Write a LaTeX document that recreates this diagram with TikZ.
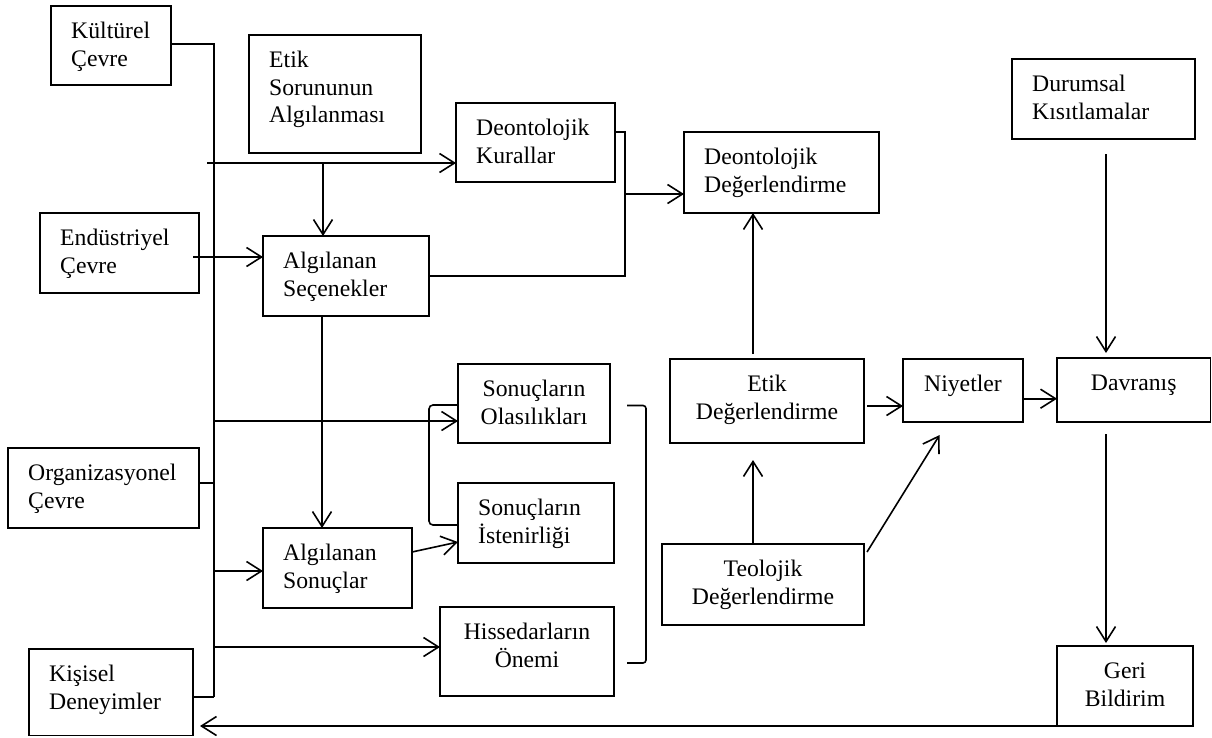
\documentclass[tikz,border=0pt]{standalone}
\usepackage{fontspec}
\setmainfont{Liberation Serif}
\usetikzlibrary{arrows.meta}

% box with left-aligned text: name, x1, y1, x2, y2, text
\newcommand\mkboxL[6]{%
  \node[box, minimum width={#4-#2}, minimum height={#5-#3}] (#1) at (#2,#3) {};
  \node[txt, anchor=north west, align=left] (#1-t) at (#2+20,#3+12) {\rule{0pt}{20pt}#6};
}
% box with centred text: name, x1, y1, x2, y2, text
\newcommand\mkboxC[6]{%
  \node[box, minimum width={#4-#2}, minimum height={#5-#3}] (#1) at (#2,#3) {};
  \node[txt, anchor=north, align=center] (#1-t) at ({(#2+#4)/2},#3+12) {\rule{0pt}{20pt}#6};
}

\begin{document}
\begin{tikzpicture}[x=1pt,y=-1pt,
  box/.style={draw, line width=1.2pt, rectangle, inner sep=0pt, outer sep=0pt, anchor=north west},
  txt/.style={inner sep=0pt, font=\fontsize{23.7}{27.8}\selectfont},
  conn/.style={line width=1.6pt},
  arr/.style={conn, -{Straight Barb[length=15pt,width=19pt]}},
]
\useasboundingbox (0,0) rectangle (1212,737);

% boxes
\mkboxL{kult}{51}{6}{171}{85}{Kültürel\\Çevre}
\mkboxL{etik}{249}{35}{421}{153}{Etik\\Sorununun\\Algılanması}
\mkboxL{endu}{40}{213}{199}{293}{Endüstriyel\\Çevre}
\mkboxL{alsec}{263}{236}{429}{316}{Algılanan\\Seçenekler}
\mkboxL{dkur}{456}{103}{615}{182}{Deontolojik\\Kurallar}
\mkboxL{ddeg}{684}{132}{879}{213}{Deontolojik\\Değerlendirme}
\mkboxL{dur}{1012}{59}{1195}{139}{Durumsal\\Kısıtlamalar}
\mkboxL{org}{8}{448}{199}{528}{Organizasyonel\\Çevre}
\mkboxL{alson}{263}{528}{412}{608}{Algılanan\\Sonuçlar}
\mkboxL{kis}{29}{649}{193}{735.5}{Kişisel\\Deneyimler}
\mkboxC{olas}{458}{364}{610}{443}{Sonuçların\\Olasılıkları}
\mkboxL{isten}{458}{483}{614}{563}{Sonuçların\\İstenirliği}
\mkboxC{hiss}{440}{607}{614}{696}{Hissedarların\\Önemi}
\mkboxC{etikd}{670}{359}{864}{443}{Etik\\Değerlendirme}
\mkboxC{niy}{903}{359}{1023}{422}{Niyetler}
\mkboxC{dav}{1057}{358}{1210.5}{422}{Davranış}
\mkboxC{teo}{662}{544}{864}{625}{Teolojik\\Değerlendirme}
\mkboxC{geri}{1057}{646}{1193}{726}{Geri\\Bildirim}

% environment bus on the left
\coordinate (busT) at (214,44);
\coordinate (busB) at (214,697);
\coordinate (o1) at (214,483);
\draw[conn] (kult.east |- busT) -- (busT) -- (busB);
\draw[conn] (org.east |- o1) -- (o1);
\draw[conn] (kis.east |- busB) -- (busB);

% upper inputs
\coordinate (h1) at (207,163);
\draw[arr] (h1) -- (h1 -| dkur.west);
\coordinate (v1) at (323,163);
\draw[arr] (v1) -- (v1 |- alsec.north);
\coordinate (e1) at (193,257);
\draw[arr] (e1) -- (e1 -| alsec.west);

% deontological join
\coordinate (jt) at (625,132);
\coordinate (jb) at (625,276);
\coordinate (jm) at (625,194);
\draw[conn] (jt -| dkur.east) -- (jt) -- (jb) -- (jb -| alsec.east);
\draw[arr] (jm) -- (jm -| ddeg.west);

% perceived alternatives to perceived consequences
\coordinate (v2) at (322,316);
\draw[arr] (v2 |- alsec.south) -- (v2 |- alson.north);

% bus branches
\coordinate (b1) at (214,421);
\draw[arr] (b1) -- (b1 -| olas.west);
\coordinate (b2) at (214,571);
\draw[arr] (b2) -- (b2 -| alson.west);
\coordinate (b3) at (214,647);
\draw[arr] (b3) -- (b3 -| hiss.west);

% consequences
\coordinate (s1) at (412,552);
\coordinate (s2) at (458,542);
\draw[arr] (s1 -| alson.east) -- (s2 -| isten.west);
\coordinate (lb1) at (429,405);
\coordinate (lb2) at (429,525);
\draw[conn, rounded corners=4pt] (lb1 -| olas.west) -- (lb1) -- (lb2) -- (lb2 -| isten.west);
\coordinate (rb1) at (627,405.5);
\coordinate (rb2) at (646,405.5);
\coordinate (rb3) at (646,663);
\coordinate (rb4) at (627,663);
\draw[conn, rounded corners=3pt] (rb1) -- (rb2) -- (rb3) -- (rb4);

% evaluations
\coordinate (t1) at (753,460);
\draw[arr] (t1 |- teo.north) -- (t1);
\coordinate (t2) at (753,354);
\draw[arr] (t2) -- (t2 |- ddeg.south);
\coordinate (n1) at (867,406);
\draw[arr] (n1) -- (n1 -| niy.west);
\coordinate (n2) at (867,552);
\coordinate (n3) at (939.6,435);
\draw[arr] (n2) -- (n3);
\coordinate (n4) at (1023,398.7);
\draw[arr] (n4 -| niy.east) -- (n4 -| dav.west);

% behaviour and feedback
\coordinate (d1) at (1106,154);
\coordinate (d2) at (1106,353);
\draw[arr] (d1) -- (d2);
\coordinate (d3) at (1106,434);
\coordinate (d4) at (1106,643);
\draw[arr] (d3) -- (d4);
\draw[arr, shorten >=7pt] (geri.south west) -- (geri.south west -| kis.east);
\end{tikzpicture}
\end{document}
